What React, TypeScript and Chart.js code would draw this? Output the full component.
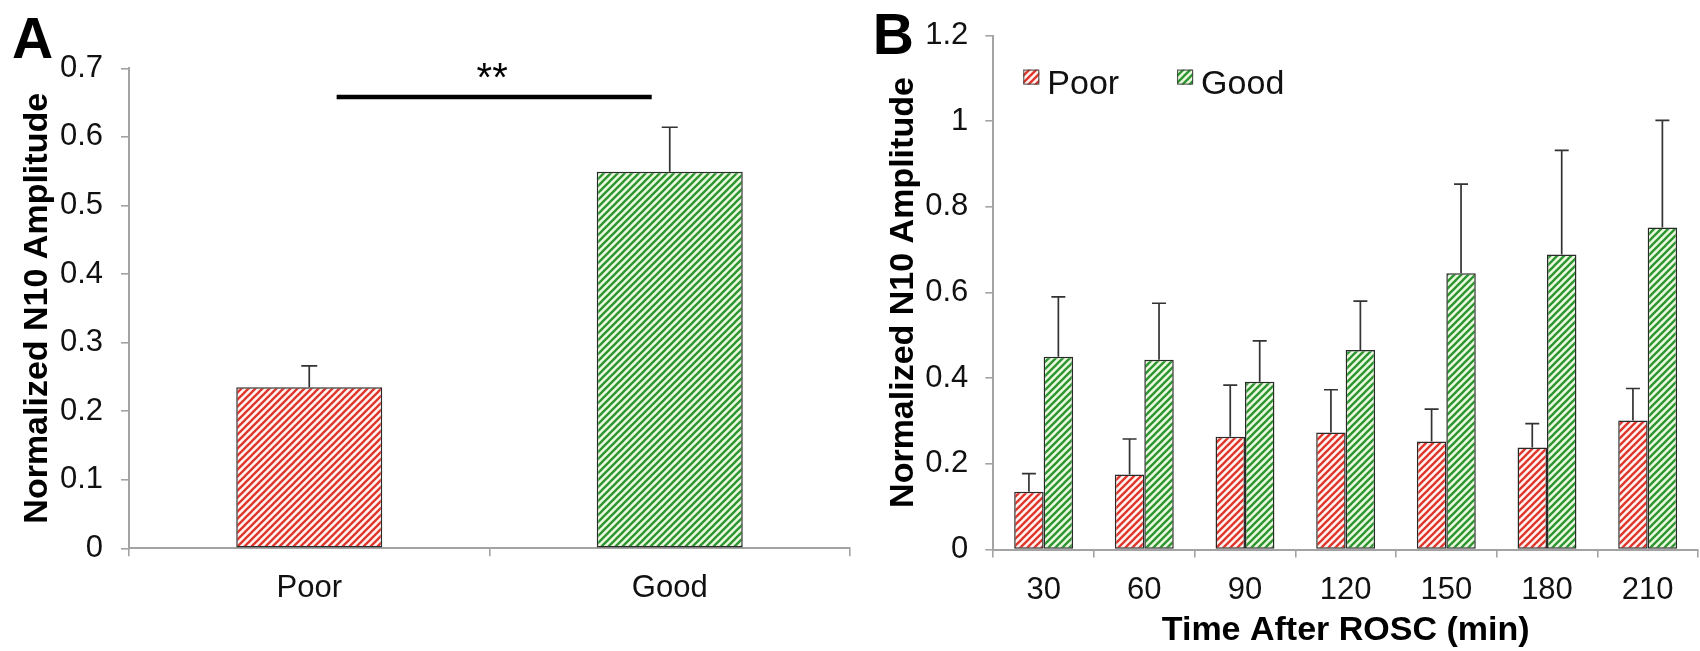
import React, { useEffect, useRef } from 'react';
import { Chart, registerables } from 'chart.js';

Chart.register(...registerables);

const FONT = "'Liberation Sans', Arial, Helvetica, sans-serif";

// ---------- Panel A data ----------
const A_CATEGORIES = ['Poor', 'Good'];
const A_MEANS = [0.235, 0.549];
const A_ERRORS = [0.031, 0.065];
const A_Y_MAX = 0.7;
const A_Y_STEP = 0.1;
const A_Y_TITLE = 'Normalized N10 Amplitude';
const A_SIG_LABEL = '**';
const A_SIG_VALUE = 0.658;
const A_SIG_FROM = 0.076; // category-index units
const A_SIG_TO = 0.95;

// ---------- Panel B data ----------
const B_TIMES = ['30', '60', '90', '120', '150', '180', '210'];
const B_SERIES = ['Poor', 'Good'];
const B_POOR = [0.135, 0.175, 0.263, 0.273, 0.252, 0.238, 0.301];
const B_POOR_ERR = [0.042, 0.083, 0.121, 0.1, 0.076, 0.056, 0.075];
const B_GOOD = [0.45, 0.443, 0.392, 0.466, 0.645, 0.689, 0.752];
const B_GOOD_ERR = [0.14, 0.132, 0.095, 0.114, 0.208, 0.243, 0.25];
const B_Y_MAX = 1.2;
const B_Y_STEP = 0.2;
const B_Y_TITLE = 'Normalized N10 Amplitude';
const B_X_TITLE = 'Time After ROSC (min)';

const W = 1700;
const H = 651;
const AXIS = '#a3a3a3';
const TEXT = '#111111';
const RED_LINE = '#e0352c';
const RED_BG = '#fff4f0';
const GREEN_LINE = '#2c9530';
const GREEN_BG = '#eaf8de';

const fmtTick = (v: any) => String(Number(Number(v).toFixed(3)));

function makeHatch(ctx: CanvasRenderingContext2D, line: string, bg: string) {
  const s = 7;
  const c = document.createElement('canvas');
  c.width = s;
  c.height = s;
  const g = c.getContext('2d')!;
  g.fillStyle = bg;
  g.fillRect(0, 0, s, s);
  g.strokeStyle = line;
  g.lineWidth = 2.3;
  g.beginPath();
  g.moveTo(-1, s + 1);
  g.lineTo(s + 1, -1);
  g.moveTo(-2, 2);
  g.lineTo(2, -2);
  g.moveTo(s - 2, s + 2);
  g.lineTo(s + 2, s - 2);
  g.stroke();
  return ctx.createPattern(c, 'repeat')!;
}

const errorBarPlugin = {
  id: 'errorBars',
  afterDatasetsDraw(chart: any, _a: any, opts: any) {
    const { ctx } = chart;
    const yScale = chart.scales.y;
    const cap = opts.cap ?? 14;
    chart.data.datasets.forEach((ds: any, i: number) => {
      const errs = ds.errors;
      if (!errs) return;
      const meta = chart.getDatasetMeta(i);
      meta.data.forEach((el: any, j: number) => {
        const v = ds.data[j];
        const e = errs[j];
        const x = el.x;
        const y0 = yScale.getPixelForValue(v);
        const y1 = yScale.getPixelForValue(v + e);
        ctx.save();
        ctx.strokeStyle = '#333333';
        ctx.lineWidth = 1.7;
        ctx.beginPath();
        ctx.moveTo(x, y0);
        ctx.lineTo(x, y1);
        ctx.moveTo(x - cap / 2, y1);
        ctx.lineTo(x + cap / 2, y1);
        ctx.stroke();
        ctx.restore();
      });
    });
  },
};

const letterPlugin = {
  id: 'panelLetter',
  afterDraw(chart: any, _a: any, opts: any) {
    const { ctx } = chart;
    ctx.save();
    ctx.font = `bold 57px ${FONT}`;
    ctx.fillStyle = '#000';
    ctx.textAlign = opts.align;
    ctx.textBaseline = 'alphabetic';
    ctx.fillText(opts.text, opts.x, opts.y);
    ctx.restore();
  },
};

const sigPlugin = {
  id: 'sigBar',
  afterDraw(chart: any) {
    const { ctx } = chart;
    const xs = chart.scales.x;
    const ys = chart.scales.y;
    const x0 = xs.getPixelForValue(A_SIG_FROM);
    const x1 = xs.getPixelForValue(A_SIG_TO);
    const y = ys.getPixelForValue(A_SIG_VALUE);
    ctx.save();
    ctx.strokeStyle = '#000';
    ctx.lineWidth = 4.5;
    ctx.beginPath();
    ctx.moveTo(x0, y);
    ctx.lineTo(x1, y);
    ctx.stroke();
    ctx.font = `40px ${FONT}`;
    ctx.fillStyle = '#000';
    ctx.textAlign = 'center';
    ctx.textBaseline = 'alphabetic';
    ctx.fillText(A_SIG_LABEL, (x0 + x1) / 2 - 2, y - 6);
    ctx.restore();
  },
};

const legendPlugin = {
  id: 'inLegend',
  afterDraw(chart: any) {
    const { ctx, chartArea } = chart;
    let x = chartArea.left + 30;
    const top = chartArea.top + 34;
    ctx.save();
    ctx.font = `34px ${FONT}`;
    ctx.textBaseline = 'alphabetic';
    ctx.textAlign = 'left';
    chart.data.datasets.forEach((ds: any) => {
      ctx.fillStyle = ds.backgroundColor;
      ctx.fillRect(x, top, 16, 15);
      ctx.strokeStyle = '#444';
      ctx.lineWidth = 1;
      ctx.strokeRect(x + 0.5, top + 0.5, 15, 14);
      ctx.fillStyle = TEXT;
      ctx.fillText(ds.label, x + 24, top + 24);
      x += 24 + ctx.measureText(ds.label).width + 58;
    });
    ctx.restore();
  },
};

function axisCommon() {
  return {
    grid: {
      display: true,
      drawOnChartArea: false,
      drawTicks: true,
      tickLength: 8,
      color: AXIS,
      lineWidth: 1.6,
    },
    border: { display: true, color: AXIS, width: 2 },
  };
}

export default function App() {
  const refA = useRef<HTMLCanvasElement>(null);
  const refB = useRef<HTMLCanvasElement>(null);

  useEffect(() => {
    const ctxA = refA.current!.getContext('2d')!;
    const ctxB = refB.current!.getContext('2d')!;
    const redA = makeHatch(ctxA, RED_LINE, RED_BG);
    const greenA = makeHatch(ctxA, GREEN_LINE, GREEN_BG);
    const redB = makeHatch(ctxB, RED_LINE, RED_BG);
    const greenB = makeHatch(ctxB, GREEN_LINE, GREEN_BG);

    const chartA = new Chart(refA.current!, {
      type: 'bar',
      data: {
        labels: A_CATEGORIES,
        datasets: [
          {
            data: A_MEANS,
            errors: A_ERRORS,
            backgroundColor: [redA, greenA],
            borderColor: '#2a2a2a',
            borderWidth: 1.5,
            borderSkipped: false,
            barPercentage: 0.405,
            categoryPercentage: 1,
          } as any,
        ],
      },
      options: {
        responsive: false,
        animation: false,
        events: [],
        layout: { padding: { left: 0, top: 68.3, right: W - 850, bottom: 0 } },
        plugins: {
          legend: { display: false },
          tooltip: { enabled: false },
          errorBars: { cap: 16 },
          panelLetter: { text: 'A', x: 12, y: 58, align: 'left' },
        } as any,
        scales: {
          x: {
            ...axisCommon(),
            ticks: { color: TEXT, font: { family: FONT, size: 31 }, padding: 14 },
            afterFit: (s: any) => {
              s.height = H - 548.3;
            },
          },
          y: {
            ...axisCommon(),
            min: 0,
            max: A_Y_MAX,
            ticks: {
              stepSize: A_Y_STEP,
              color: TEXT,
              font: { family: FONT, size: 31 },
              padding: 18,
              callback: fmtTick,
            },
            title: {
              display: true,
              text: A_Y_TITLE,
              color: '#000',
              font: { family: FONT, size: 34, weight: 'bold' },
              padding: { top: 17.5, bottom: 0 },
            },
            afterFit: (s: any) => {
              s.width = 129;
            },
          },
        } as any,
      },
      plugins: [errorBarPlugin, sigPlugin, letterPlugin],
    });

    const chartB = new Chart(refB.current!, {
      type: 'bar',
      data: {
        labels: B_TIMES,
        datasets: [
          {
            label: B_SERIES[0],
            data: B_POOR,
            errors: B_POOR_ERR,
            backgroundColor: redB,
            borderColor: '#2a2a2a',
            borderWidth: 1.5,
            borderSkipped: false,
            barPercentage: 1,
            categoryPercentage: 0.585,
          } as any,
          {
            label: B_SERIES[1],
            data: B_GOOD,
            errors: B_GOOD_ERR,
            backgroundColor: greenB,
            borderColor: '#2a2a2a',
            borderWidth: 1.5,
            borderSkipped: false,
            barPercentage: 1,
            categoryPercentage: 0.585,
          } as any,
        ],
      },
      options: {
        responsive: false,
        animation: false,
        events: [],
        layout: { padding: { left: 860, top: 33.3, right: 2, bottom: 0 } },
        plugins: {
          legend: { display: false },
          tooltip: { enabled: false },
          errorBars: { cap: 14 },
          panelLetter: { text: 'B', x: 914, y: 54, align: 'right' },
        } as any,
        scales: {
          x: {
            ...axisCommon(),
            ticks: { color: TEXT, font: { family: FONT, size: 31 }, padding: 14 },
            title: {
              display: true,
              text: B_X_TITLE,
              color: '#000',
              font: { family: FONT, size: 34, weight: 'bold' },
              padding: { top: 0, bottom: 0 },
            },
            afterFit: (s: any) => {
              s.height = H - 549.5;
            },
          },
          y: {
            ...axisCommon(),
            min: 0,
            max: B_Y_MAX,
            ticks: {
              stepSize: B_Y_STEP,
              color: TEXT,
              font: { family: FONT, size: 31 },
              padding: 17,
              callback: fmtTick,
            },
            title: {
              display: true,
              text: B_Y_TITLE,
              color: '#000',
              font: { family: FONT, size: 34, weight: 'bold' },
              padding: { top: 23.5, bottom: 0 },
            },
            afterFit: (s: any) => {
              s.width = 993.3 - 860;
            },
          },
        } as any,
      },
      plugins: [errorBarPlugin, legendPlugin, letterPlugin],
    });

    return () => {
      chartA.destroy();
      chartB.destroy();
    };
  }, []);

  const canvasStyle: React.CSSProperties = {
    position: 'absolute',
    left: 0,
    top: 0,
    width: W,
    height: H,
  };

  return (
    <div style={{ position: 'absolute', left: 0, top: 0, width: W, height: H, background: '#fff', overflow: 'hidden' }}>
      <canvas ref={refA} width={W} height={H} style={canvasStyle} />
      <canvas ref={refB} width={W} height={H} style={canvasStyle} />
    </div>
  );
}
